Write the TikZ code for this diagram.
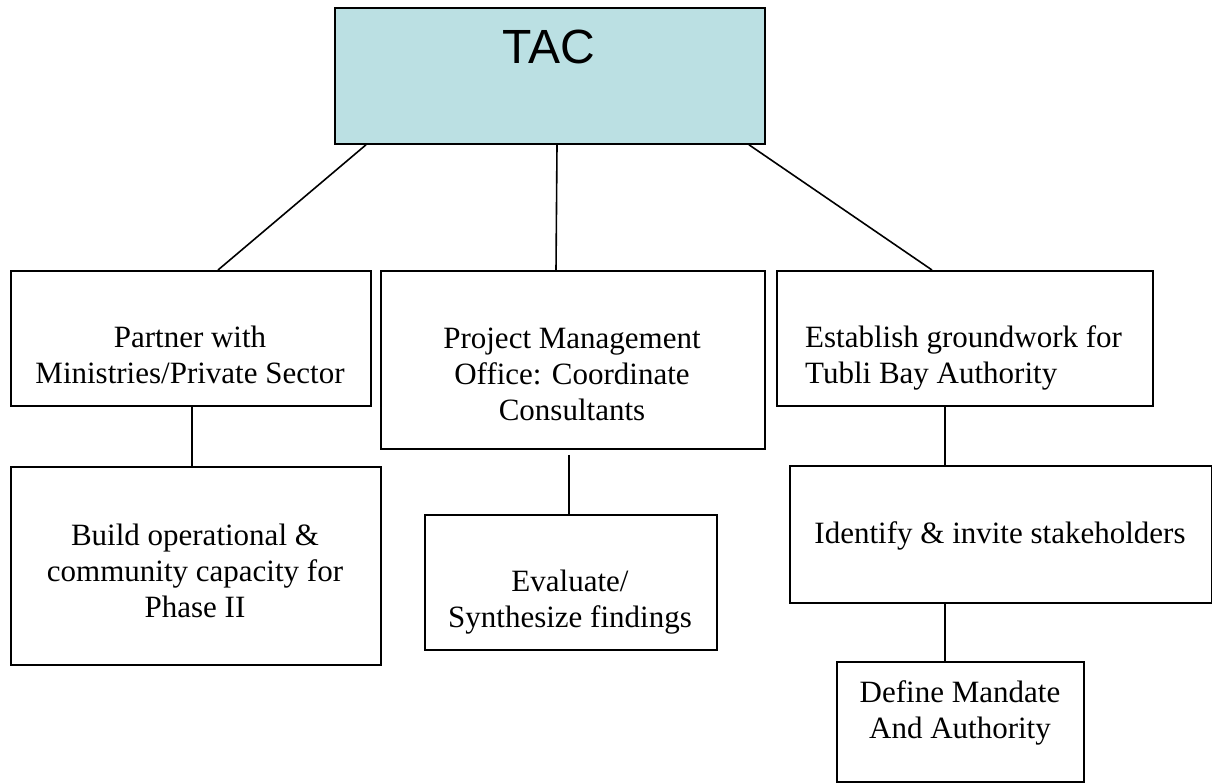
\documentclass[tikz,border=0pt]{standalone}
\usepackage{fontspec}
\setmainfont{Liberation Serif}
\newfontfamily\tacfont{Liberation Sans}
\definecolor{tacfill}{RGB}{187,224,227}
\begin{document}
\begin{tikzpicture}[x=1pt,y=-1pt,
  box/.style={draw=black,line width=1.8pt,rectangle,inner sep=0pt,anchor=north west},
  lbl/.style={font=\fontsize{31}{36}\selectfont,align=center,inner sep=0pt,anchor=base},
  link/.style={line width=1.6pt}]
\useasboundingbox (0,0) rectangle (1212,782);
% boxes
\node[box,fill=tacfill,minimum width=430,minimum height=136] (tac) at (334,7) {};
\node[box,minimum width=360,minimum height=135] (A) at (10,270) {};
\node[box,minimum width=384,minimum height=178] (B) at (380,270) {};
\node[box,minimum width=376,minimum height=135] (C) at (776,270) {};
\node[box,minimum width=370,minimum height=198] (D) at (10,466) {};
\node[box,minimum width=292,minimum height=135] (E) at (424,514) {};
\node[box,minimum width=422,minimum height=137] (F) at (789,465) {};
\node[box,minimum width=247,minimum height=120] (G) at (836,661) {};
% texts (base anchor = baseline of the last line)
\node[inner sep=0pt,anchor=base,font=\tacfont\fontsize{48}{55}\selectfont] (tact) at (549,63) {TAC};
\node[lbl] (At) at (190,383) {Partner with\\Ministries/Private Sector};
\node[lbl] (Bt) at (572,420) {Project Management\\Office: Coordinate\\Consultants};
\node[lbl,anchor=base west,align=left] (Ct) at (805,383) {Establish groundwork for\\Tubli Bay Authority};
\node[lbl] (Dt) at (195,617) {Build operational \&\\community capacity for\\Phase II};
\node[lbl] (Et) at (570,627) {Evaluate/\\Synthesize findings};
\node[lbl] (Ft) at (1000,543) {Identify \& invite stakeholders};
\node[lbl] (Gt) at (960,738) {Define Mandate\\And Authority};
% connectors
\draw[link] ([xshift=32]tac.south west) -- ([xshift=208]A.north west);
\draw[link] ([xshift=223]tac.south west) -- ([xshift=176]B.north west);
\draw[link] ([xshift=415]tac.south west) -- ([xshift=156]C.north west);
\draw[link] ([xshift=182]A.south west) -- ([xshift=182]D.north west);
\draw[link] ([xshift=189,yshift=-5]B.south west) -- ([xshift=145]E.north west);
\draw[link] ([xshift=169]C.south west) -- ([xshift=156]F.north west);
\draw[link] ([xshift=156]F.south west) -- ([xshift=109]G.north west);
\end{tikzpicture}
\end{document}
